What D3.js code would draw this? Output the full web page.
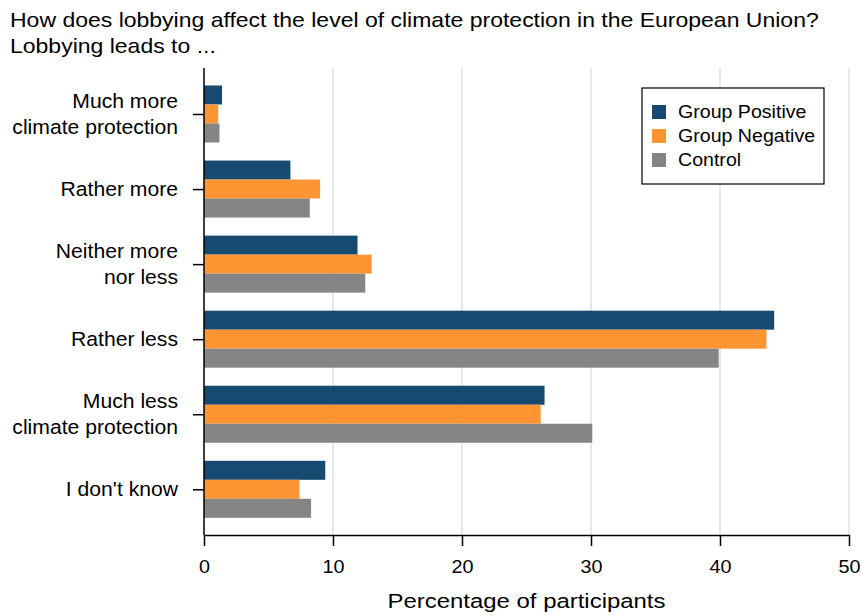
<!DOCTYPE html>
<html>
<head>
<meta charset="utf-8">
<script src="https://cdn.jsdelivr.net/npm/d3@7"></script>
<style>
  html, body { margin: 0; padding: 0; background: #fff; }
  svg { display: block; font-family: "Liberation Sans", Arial, sans-serif; }
</style>
</head>
<body>
<svg id="chart" width="862" height="616"></svg>
<script>
// Answer categories (top to bottom), each split into display lines
const categories = [
  ["Much more", "climate protection"],
  ["Rather more"],
  ["Neither more", "nor less"],
  ["Rather less"],
  ["Much less", "climate protection"],
  ["I don't know"]
];
const seriesNames = ["Group Positive", "Group Negative", "Control"];
const seriesColors = ["#174a71", "#ff9433", "#858585"];

// Percentage of participants per category
const groupPositive = [1.4, 6.7, 11.9, 44.2, 26.4, 9.4];
const groupNegative = [1.1, 9.0, 13.0, 43.6, 26.1, 7.4];
const control       = [1.2, 8.2, 12.5, 39.9, 30.1, 8.3];

const xTicks = [0, 10, 20, 30, 40, 50];
const titleLines = [
  "How does lobbying affect the level of climate protection in the European Union?",
  "Lobbying leads to ..."
];
const xTitle = "Percentage of participants";

const values = [groupPositive, groupNegative, control];
const svg = d3.select("#chart");

// Text is drawn slightly wide (horizontal stretch factor per role)
const stretch = { title: 1.15, cat: 1.085, tick: 1.1, axisTitle: 1.14, legend: 1.12 };

const plot = { left: 204, right: 849, top: 68, bottom: 535 };

const x = d3.scaleLinear().domain([0, 50]).range([plot.left, plot.right]);
const catKeys = categories.map((c, i) => i);
const y = d3.scalePoint().domain(catKeys).range([114, 489.3]);
const sub = d3.scaleBand().domain(seriesNames).range([-28.5, 28.5]);

// Vertical grid lines
svg.append("g")
  .selectAll("line")
  .data(xTicks.filter(t => t > 0))
  .join("line")
  .attr("x1", d => x(d)).attr("x2", d => x(d))
  .attr("y1", plot.top).attr("y2", plot.bottom)
  .attr("stroke", "#e8e8e8").attr("stroke-width", 2);

// Bars
seriesNames.forEach((name, si) => {
  svg.append("g")
    .attr("fill", seriesColors[si])
    .selectAll("rect")
    .data(values[si])
    .join("rect")
    .attr("x", x(0))
    .attr("y", (d, i) => y(i) + sub(name))
    .attr("width", d => x(d) - x(0))
    .attr("height", sub.bandwidth());
});

// X axis
const xAxis = svg.append("g")
  .attr("transform", `translate(0,${plot.bottom})`)
  .call(d3.axisBottom(x).tickValues(xTicks).tickSize(11).tickSizeOuter(0).tickPadding(14));
xAxis.select(".domain").attr("stroke", "#000").attr("stroke-width", 1.5);
xAxis.selectAll(".tick line").attr("stroke", "#000").attr("stroke-width", 1.5);
xAxis.selectAll(".tick text")
  .attr("font-size", 18).attr("fill", "#000")
  .attr("font-family", "Liberation Sans, Arial, sans-serif")
  .attr("transform", `scale(${stretch.tick},1)`);

// Y axis
const yAxis = svg.append("g")
  .attr("transform", `translate(${plot.left},0)`)
  .call(d3.axisLeft(y).tickSize(11).tickSizeOuter(0).tickFormat(""));
yAxis.select(".domain").attr("d", `M0,${plot.top}V${plot.bottom}`)
  .attr("stroke", "#000").attr("stroke-width", 1.5);
yAxis.selectAll(".tick line").attr("stroke", "#000").attr("stroke-width", 1.5);

// Category labels
const catLabel = svg.append("g")
  .attr("font-size", 19.5).attr("fill", "#000").attr("text-anchor", "end");
categories.forEach((lines, i) => {
  const g = catLabel.append("g")
    .attr("transform", `translate(178,${y(i) - (lines.length - 1) * 13}) scale(${stretch.cat},1)`);
  const t = g.append("text");
  lines.forEach((ln, li) => {
    t.append("tspan").attr("x", 0).attr("y", li * 26).attr("dy", "0.35em").text(ln);
  });
});

// Axis title
svg.append("text")
  .attr("transform", `translate(${(plot.left + plot.right) / 2},608) scale(${stretch.axisTitle},1)`)
  .attr("text-anchor", "middle")
  .attr("font-size", 21)
  .attr("fill", "#000")
  .text(xTitle);

// Chart title
const title = svg.append("text")
  .attr("transform", `translate(10,0) scale(${stretch.title},1)`)
  .attr("font-size", 20).attr("fill", "#000");
titleLines.forEach((ln, i) => {
  title.append("tspan").attr("x", 0).attr("y", 27 + i * 26).text(ln);
});

// Legend
const legend = svg.append("g").attr("transform", "translate(642,88)");
legend.append("rect")
  .attr("width", 182).attr("height", 96)
  .attr("fill", "#fff").attr("stroke", "#000").attr("stroke-width", 1.2);
seriesNames.forEach((name, i) => {
  const row = legend.append("g").attr("transform", `translate(10,${24 + i * 24})`);
  row.append("rect").attr("x", 0).attr("y", -7).attr("width", 14).attr("height", 14)
    .attr("fill", seriesColors[i]);
  row.append("text")
    .attr("transform", `translate(26,0) scale(${stretch.legend},1)`)
    .attr("dy", "0.35em")
    .attr("font-size", 17.5).attr("fill", "#000").text(name);
});
</script>
</body>
</html>
